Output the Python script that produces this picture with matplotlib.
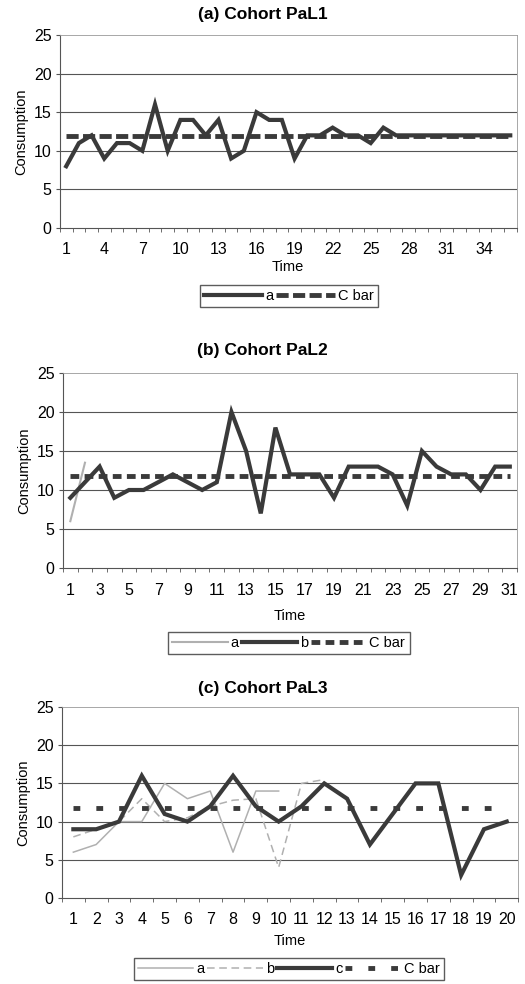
import matplotlib
matplotlib.use("Agg")
import matplotlib.pyplot as plt
import numpy as np

plt.rcParams['font.family'] = ['Liberation Sans', 'DejaVu Sans']

# (a) Cohort PaL1
time_a = list(range(1, 37))
pal1_a = [8, 11, 12, 9, 11, 11, 10, 16, 10, 14, 14, 12, 14, 9, 10, 15, 14, 14,
          9, 12, 12, 13, 12, 12, 11, 13, 12, 12, 12, 12, 12, 12, 12, 12, 12, 12]
cbar_1 = 11.9

# (b) Cohort PaL2
time_b = list(range(1, 32))
pal2_a = [6, 13.5]
pal2_b = [9, 11, 13, 9, 10, 10, 11, 12, 11, 10, 11, 20, 15, 7, 18, 12, 12, 12,
          9, 13, 13, 13, 12, 8, 15, 13, 12, 12, 10, 13, 13]
cbar_2 = 11.8

# (c) Cohort PaL3
time_c = list(range(1, 21))
pal3_a = [6, 7, 10, 10, 15, 13, 14, 6, 14, 14]
pal3_b = [8, 9, 10, 13, 10, 10.5, 12, 12.8, 13, 4, 15, 15.5]
pal3_c = [9, 9, 10, 16, 11, 10, 12, 16, 12, 10, 12, 15, 13, 7, 11, 15, 15, 3, 9, 10]
cbar_3 = 11.8

dark = '#3a3a3a'
light = '#b0b0b0'
H = 984

fig = plt.figure(figsize=(5.25, 9.84), dpi=100)


def style_axes(ax, n, step, tick_pad=10):
    ax.set_xlim(0.5, n + 0.5)
    ax.set_ylim(0, 25)
    ax.set_yticks([0, 5, 10, 15, 20, 25])
    ax.set_xticks(list(range(1, n + 1, step)))
    ax.set_xticks(np.arange(0.5, n + 1, 1), minor=True)
    ax.tick_params(axis='x', which='major', length=0, labelsize=11.5, pad=tick_pad)
    ax.tick_params(axis='x', which='minor', length=3, direction='out', color='#555555')
    ax.tick_params(axis='y', length=3, direction='out', labelsize=11.5, color='#555555', pad=3)
    for y in [5, 10, 15, 20]:
        ax.axhline(y, color='#555555', lw=0.8, zorder=0)
    for side in ['left', 'bottom']:
        ax.spines[side].set_color('#555555')
    for side in ['top', 'right']:
        ax.spines[side].set_color('#999999')
        ax.spines[side].set_linewidth(0.6)
    ax.set_ylabel('Consumption', fontsize=10.5, labelpad=4)


def add_legend(handles, y_px, handlelength):
    fig.legend(handles=handles, loc='center', bbox_to_anchor=(0.55, 1 - y_px / H),
               ncol=len(handles), fontsize=10.5, frameon=True, fancybox=False,
               edgecolor='#333333', handlelength=handlelength, columnspacing=0.2,
               handletextpad=0.2, borderpad=0.3, borderaxespad=0)


# panel a
ax1 = fig.add_axes([0.114, 1 - 228 / H, 0.870, 193 / H])
l1, = ax1.plot(time_a, pal1_a, color=dark, lw=3, solid_joinstyle='miter', label='a')
l2, = ax1.plot(time_a, [cbar_1] * len(time_a), color=dark, lw=3.5, ls=(0, (2.5, 0.9)), label='C bar')
style_axes(ax1, 36, 3)
ax1.set_xlabel('Time', fontsize=10.5, labelpad=2)
fig.text(0.5, 1 - 15 / H, '(a) Cohort PaL1', ha='center', va='center', fontsize=12.5, fontweight='bold')
add_legend([l1, l2], 296, 4)

# panel b
ax2 = fig.add_axes([0.12, 1 - 568 / H, 0.865, 195 / H])
m1, = ax2.plot(time_b[:len(pal2_a)], pal2_a, color=light, lw=1.5, label='a')
m2, = ax2.plot(time_b, pal2_b, color=dark, lw=3, solid_joinstyle='miter', label='b')
m3, = ax2.plot(time_b, [cbar_2] * len(time_b), color=dark, lw=3.5, ls=(0, (1.8, 1.1)), label='C bar')
style_axes(ax2, 31, 2, tick_pad=10.5)
ax2.set_xlabel('Time', fontsize=10.5, labelpad=8.5)
fig.text(0.5, 1 - 350 / H, '(b) Cohort PaL2', ha='center', va='center', fontsize=12.5, fontweight='bold')
add_legend([m1, m2, m3], 643, 3.8)

# panel c
ax3 = fig.add_axes([0.118, 1 - 898 / H, 0.869, 191 / H])
n1, = ax3.plot(time_c[:len(pal3_a)], pal3_a, color=light, lw=1.1, label='a')
n2, = ax3.plot(time_c[:len(pal3_b)], pal3_b, color=light, lw=1.1, ls=(0, (5, 3)), label='b')
n3, = ax3.plot(time_c, pal3_c, color=dark, lw=3, solid_joinstyle='miter', label='c')
n4, = ax3.plot(time_c, [cbar_3] * len(time_c), color=dark, lw=3.5, ls=(0, (1.4, 3.3)), label='C bar')
style_axes(ax3, 20, 1)
ax3.set_xlabel('Time', fontsize=10.5, labelpad=5)
fig.text(0.5, 1 - 688 / H, '(c) Cohort PaL3', ha='center', va='center', fontsize=12.5, fontweight='bold')
add_legend([n1, n2, n3, n4], 969, 3.8)

fig.savefig('out.png', dpi=100)
